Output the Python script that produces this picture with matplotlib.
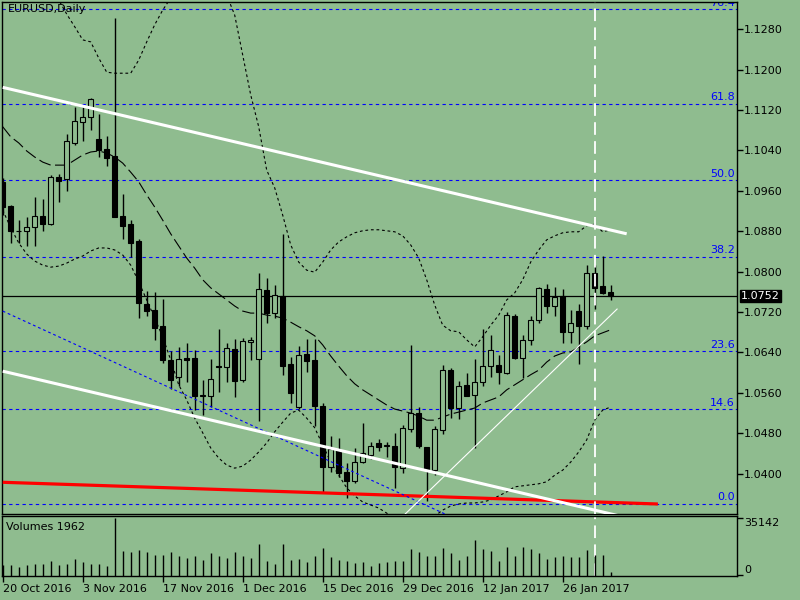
import matplotlib
matplotlib.use("Agg")
import matplotlib.pyplot as plt
from matplotlib.patches import Rectangle
from matplotlib.transforms import blended_transform_factory

# terminal colour scheme
bg = '#8fbc8f'

# EURUSD daily bars, 20 Oct 2016 .. 3 Feb 2017
opens = [1.0978, 1.0930, 1.0880, 1.0881, 1.0889, 1.0910, 1.0894, 1.0988, 1.0983, 1.1055,
         1.1097, 1.1107, 1.1062, 1.1042, 1.1029, 1.0910, 1.0894, 1.0861, 1.0736, 1.0724,
         1.0692, 1.0625, 1.0592, 1.0629, 1.0629, 1.0553, 1.0553, 1.0614, 1.0611, 1.0647,
         1.0585, 1.0660, 1.0628, 1.0764, 1.0718, 1.0752, 1.0617, 1.0533, 1.0637, 1.0626,
         1.0534, 1.0413, 1.0446, 1.0403, 1.0386, 1.0424, 1.0438, 1.0461, 1.0455, 1.0455,
         1.0411, 1.0488, 1.0521, 1.0452, 1.0407, 1.0487, 1.0605, 1.0530, 1.0576, 1.0555,
         1.0582, 1.0614, 1.0615, 1.0600, 1.0712, 1.0629, 1.0665, 1.0704, 1.0765, 1.0732,
         1.0751, 1.0681, 1.0723, 1.0692, 1.0798, 1.0771, 1.0760]
highs = [1.0985, 1.0932, 1.0902, 1.0908, 1.0948, 1.0944, 1.0991, 1.0993, 1.1073, 1.1127,
         1.1127, 1.1143, 1.1112, 1.1069, 1.1302, 1.0953, 1.0903, 1.0865, 1.0762, 1.0760,
         1.0746, 1.0642, 1.0650, 1.0658, 1.0645, 1.0585, 1.0627, 1.0687, 1.0658, 1.0666,
         1.0668, 1.0670, 1.0797, 1.0787, 1.0774, 1.0874, 1.0632, 1.0653, 1.0666, 1.0666,
         1.0539, 1.0475, 1.0470, 1.0421, 1.0450, 1.0500, 1.0462, 1.0468, 1.0463, 1.0480,
         1.0497, 1.0655, 1.0533, 1.0452, 1.0494, 1.0615, 1.0610, 1.0584, 1.0600, 1.0627,
         1.0687, 1.0675, 1.0636, 1.0720, 1.0717, 1.0675, 1.0712, 1.0770, 1.0775, 1.0770,
         1.0765, 1.0725, 1.0737, 1.0813, 1.0813, 1.0831, 1.0774]
lows = [1.0912, 1.0857, 1.0857, 1.0851, 1.0850, 1.0881, 1.0892, 1.0937, 1.0960, 1.1051,
        1.1059, 1.1081, 1.1028, 1.1009, 1.0908, 1.0864, 1.0830, 1.0709, 1.0712, 1.0665,
        1.0620, 1.0567, 1.0574, 1.0582, 1.0526, 1.0516, 1.0533, 1.0561, 1.0582, 1.0552,
        1.0582, 1.0625, 1.0505, 1.0699, 1.0709, 1.0595, 1.0539, 1.0528, 1.0602, 1.0494,
        1.0364, 1.0404, 1.0394, 1.0352, 1.0381, 1.0421, 1.0430, 1.0444, 1.0434, 1.0371,
        1.0401, 1.0483, 1.0451, 1.0345, 1.0398, 1.0479, 1.0510, 1.0508, 1.0553, 1.0450,
        1.0573, 1.0592, 1.0577, 1.0598, 1.0628, 1.0589, 1.0655, 1.0698, 1.0719, 1.0712,
        1.0658, 1.0658, 1.0618, 1.0686, 1.0727, 1.0756, 1.0744]
closes = [1.0929, 1.0881, 1.0881, 1.0888, 1.0910, 1.0894, 1.0987, 1.0980, 1.1058, 1.1098,
          1.1106, 1.1141, 1.1040, 1.1026, 1.0909, 1.0891, 1.0856, 1.0738, 1.0722, 1.0689,
          1.0625, 1.0585, 1.0627, 1.0626, 1.0553, 1.0555, 1.0587, 1.0611, 1.0648, 1.0584,
          1.0663, 1.0665, 1.0765, 1.0718, 1.0753, 1.0614, 1.0559, 1.0635, 1.0624, 1.0534,
          1.0414, 1.0448, 1.0401, 1.0386, 1.0423, 1.0440, 1.0455, 1.0453, 1.0456, 1.0413,
          1.0491, 1.0520, 1.0454, 1.0409, 1.0488, 1.0606, 1.0530, 1.0574, 1.0554, 1.0581,
          1.0613, 1.0645, 1.0602, 1.0714, 1.0629, 1.0665, 1.0704, 1.0767, 1.0732, 1.0749,
          1.0681, 1.0698, 1.0692, 1.0798, 1.0768, 1.0758, 1.0752]
volumes = [6000, 6200, 4750, 6200, 6820, 6820, 8680, 6200, 6820, 9920,
           8060, 6820, 6820, 5580, 35142, 14880, 14260, 15500, 14260, 12400,
           12400, 14260, 11780, 10540, 11780, 9300, 13640, 11780, 10540, 14260,
           11780, 10540, 19220, 8680, 6820, 19220, 9300, 9920, 8060, 11780,
           16740, 11160, 9300, 8680, 7440, 8060, 5580, 7440, 8060, 8680,
           8680, 16120, 14260, 11780, 11780, 16740, 13640, 9300, 11780, 21700,
           16120, 14880, 8680, 17360, 11780, 17360, 16120, 13640, 9920, 11160,
           11780, 11160, 11160, 15500, 12400, 12400, 1962]

# Bollinger bands as drawn on the chart
bb_upper = [1.1420, 1.1405, 1.1390, 1.1375, 1.1362, 1.1350, 1.1343, 1.1338, 1.1310, 1.1285,
            1.1259, 1.1255, 1.1223, 1.1195, 1.1193, 1.1193, 1.1193, 1.1219, 1.1255, 1.1289,
            1.1318, 1.1342, 1.1362, 1.1378, 1.1388, 1.1390, 1.1385, 1.1372, 1.1348, 1.1308,
            1.1229, 1.1150, 1.1087, 1.1001, 1.0966, 1.0912, 1.0853, 1.0819, 1.0803, 1.0799,
            1.0819, 1.0843, 1.0859, 1.0869, 1.0877, 1.0881, 1.0883, 1.0883, 1.0881, 1.0879,
            1.0871, 1.0853, 1.0827, 1.0784, 1.0734, 1.0694, 1.0683, 1.0681, 1.0665, 1.0651,
            1.0671, 1.0694, 1.0714, 1.0744, 1.0758, 1.0784, 1.0819, 1.0843, 1.0863, 1.0871,
            1.0877, 1.0879, 1.0879, 1.0891, 1.0894, 1.0879, 1.0883]
bb_middle = [1.1087, 1.1067, 1.1055, 1.1039, 1.1027, 1.1017, 1.1011, 1.1011, 1.1011, 1.1021,
             1.1031, 1.1037, 1.1039, 1.1035, 1.1027, 1.1015, 1.0997, 1.0978, 1.0952, 1.0928,
             1.0902, 1.0875, 1.0851, 1.0827, 1.0807, 1.0784, 1.0768, 1.0756, 1.0744, 1.0732,
             1.0722, 1.0718, 1.0718, 1.0714, 1.0712, 1.0708, 1.0700, 1.0691, 1.0683, 1.0673,
             1.0655, 1.0633, 1.0613, 1.0594, 1.0578, 1.0566, 1.0556, 1.0546, 1.0536, 1.0528,
             1.0524, 1.0520, 1.0514, 1.0506, 1.0506, 1.0512, 1.0518, 1.0522, 1.0526, 1.0530,
             1.0540, 1.0546, 1.0552, 1.0566, 1.0576, 1.0586, 1.0596, 1.0605, 1.0621, 1.0633,
             1.0639, 1.0641, 1.0651, 1.0661, 1.0673, 1.0679, 1.0685]
bb_lower = [1.0922, 1.0887, 1.0857, 1.0835, 1.0821, 1.0813, 1.0809, 1.0811, 1.0817, 1.0825,
            1.0831, 1.0841, 1.0847, 1.0847, 1.0843, 1.0833, 1.0813, 1.0780, 1.0744, 1.0708,
            1.0671, 1.0625, 1.0576, 1.0546, 1.0510, 1.0481, 1.0451, 1.0431, 1.0417, 1.0411,
            1.0415, 1.0427, 1.0443, 1.0461, 1.0483, 1.0502, 1.0520, 1.0526, 1.0510, 1.0491,
            1.0457, 1.0423, 1.0397, 1.0372, 1.0356, 1.0344, 1.0338, 1.0332, 1.0322, 1.0308,
            1.0304, 1.0300, 1.0298, 1.0300, 1.0316, 1.0328, 1.0336, 1.0340, 1.0342, 1.0342,
            1.0344, 1.0348, 1.0356, 1.0364, 1.0374, 1.0376, 1.0378, 1.0380, 1.0384, 1.0397,
            1.0407, 1.0423, 1.0443, 1.0467, 1.0506, 1.0526, 1.0532]

date_ticks = [0, 10, 20, 30, 40, 50, 60, 70]
date_labels = ['20 Oct 2016', '3 Nov 2016', '17 Nov 2016', '1 Dec 2016',
               '15 Dec 2016', '29 Dec 2016', '12 Jan 2017', '26 Jan 2017']
price_ticks = [1.0400, 1.0480, 1.0560, 1.0640, 1.0720, 1.0800,
               1.0880, 1.0960, 1.1040, 1.1120, 1.1200, 1.1280]

# fibonacci retracement
fib_low, fib_high = 1.0340, 1.1622
fib_levels = [0.0, 14.6, 23.6, 38.2, 50.0, 61.8, 76.4]

last_price = 1.0752
vline_bar = 74

# drawn objects (bar index, price)
trend_top = ([0, 78], [1.1165, 1.0875])
trend_bottom = ([0, 78], [1.0603, 1.0313])
trend_up = ([50.3, 76.8], [1.0320, 1.0726])
channel_blue = ([0, 60], [1.0722, 1.0286])
red_line = ([0, 81.9], [1.0383, 1.0340])

fig = plt.figure(figsize=(8, 6), dpi=100, facecolor=bg)
ax = fig.add_axes([2 / 800, 86 / 600, 735 / 800, 512 / 600], facecolor=bg)
vax = fig.add_axes([2 / 800, 24 / 600, 735 / 800, 60 / 600], facecolor=bg)

for a in (ax, vax):
    a.set_xlim(-0.09, 91.79)
    for s in a.spines.values():
        s.set_color('black')
        s.set_linewidth(1)
ax.set_ylim(1.03202, 1.13340)
vax.set_ylim(-620, 36570)

# fibo levels
trans = blended_transform_factory(ax.transAxes, ax.transData)
for lv in fib_levels:
    p = fib_low + lv / 100 * (fib_high - fib_low)
    ax.axhline(p, color='#0000ff', lw=0.8, ls=(0, (3, 3)), zorder=1)
    ax.text(0.997, p + 0.0003, '%.1f' % lv, transform=trans, color='#0000ff',
            fontsize=8, ha='right', va='bottom', clip_on=True, zorder=1)

# bollinger
x = list(range(len(closes)))
ax.plot(x, bb_upper, color='black', lw=0.8, ls=(0, (2.5, 2.5)), zorder=2)
ax.plot(x, bb_lower, color='black', lw=0.8, ls=(0, (2.5, 2.5)), zorder=2)
ax.plot(x, bb_middle, color='black', lw=0.8, ls=(0, (11, 4)), zorder=2)

ax.axhline(last_price, color='black', lw=0.9, zorder=2)

# candles
for i in x:
    o, h, l, c = opens[i], highs[i], lows[i], closes[i]
    ax.vlines(i, l, h, color='black', lw=1, zorder=3)
    fc = bg if c >= o else 'black'
    ax.add_patch(Rectangle((i - 0.28, min(o, c)), 0.56, max(abs(c - o), 0.00004),
                           facecolor=fc, edgecolor='black', lw=0.8, zorder=4))

# objects
ax.plot(*red_line, color='#ff0000', lw=2.3, zorder=5, solid_capstyle='butt')
ax.plot(*channel_blue, color='#0000ff', lw=0.8, ls=(0, (2.5, 2.5)), zorder=5)
ax.plot(*trend_top, color='white', lw=2.2, zorder=6, solid_capstyle='butt')
ax.plot(*trend_bottom, color='white', lw=2.2, zorder=6, solid_capstyle='butt')
ax.plot(*trend_up, color='white', lw=0.8, zorder=6)
ax.axvline(vline_bar, color='white', lw=1.3, ls=(0, (7, 3.5)), zorder=6)

ax.text(0.008, 0.996, 'EURUSD,Daily', transform=ax.transAxes, fontsize=8,
        ha='left', va='top', color='black')

# price scale
ax.set_xticks([])
ax.yaxis.tick_right()
ax.set_yticks(price_ticks)
ax.set_yticklabels(['%.4f' % p for p in price_ticks])
ax.tick_params(axis='y', direction='out', length=4, width=1, pad=1,
               labelsize=8, colors='black')
ax.text(1.0 + 4 / 735, last_price, '%.4f' % last_price, transform=trans,
        color='white', fontsize=8, ha='left', va='center', clip_on=False,
        bbox=dict(boxstyle='square,pad=0.12', fc='black', ec='black'))

# volumes
vax.vlines(x, -620, volumes, color='black', lw=1, zorder=3)
vax.axvline(vline_bar, color='white', lw=1.3, ls=(0, (7, 3.5)), zorder=2)
vax.text(0.005, 0.9, 'Volumes %d' % volumes[-1], transform=vax.transAxes,
         fontsize=8, ha='left', va='top', color='black')
vax.yaxis.tick_right()
vax.set_yticks([0, 35142])
vax.set_yticklabels(['0', '35142'])
vax.get_yticklabels()[0].set_va('bottom')
vax.get_yticklabels()[1].set_va('top')
vax.tick_params(axis='y', direction='out', length=4, width=1, pad=1,
                labelsize=8, colors='black')
vax.set_xticks(date_ticks)
vax.set_xticklabels(date_labels)
for t in vax.get_xticklabels():
    t.set_ha('left')
vax.tick_params(axis='x', direction='out', length=4, width=1, pad=2,
                labelsize=8, colors='black')

fig.savefig('out.png', dpi=100, facecolor=bg)
